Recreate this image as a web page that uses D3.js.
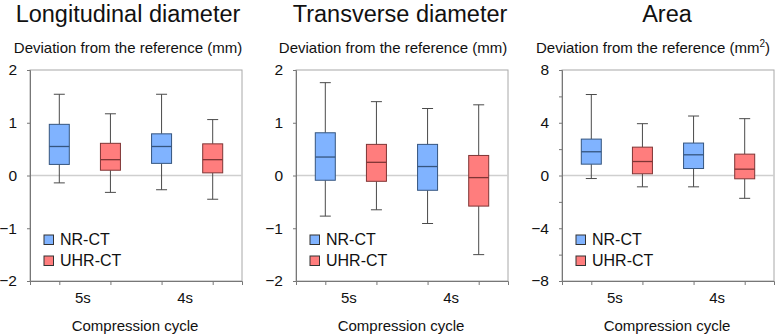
<!DOCTYPE html>
<html><head><meta charset="utf-8">
<script src="https://cdn.jsdelivr.net/npm/d3@7"></script>
<style>
html,body{margin:0;padding:0;background:#fff;}
text{font-family:"Liberation Sans",Arial,Helvetica,sans-serif;fill:#111;}
</style></head>
<body><svg id="c" width="776" height="335"></svg>
<script>
// ---- data ----
const cycles = ["5s", "4s"];
const series = ["NR-CT", "UHR-CT"];
const panelTitles = ["Longitudinal diameter", "Transverse diameter", "Area"];
// each entry: [whiskerLow, q1, median, q3, whiskerHigh] for NR 5s, UHR 5s, NR 4s, UHR 4s
const longitudinal = [
  [-0.14, 0.21, 0.55, 0.97, 1.54],
  [-0.32, 0.10, 0.30, 0.61, 1.17],
  [-0.27, 0.23, 0.55, 0.79, 1.54],
  [-0.45, 0.05, 0.30, 0.60, 1.06]
];
const transverse = [
  [-0.77, -0.09, 0.35, 0.81, 1.76],
  [-0.65, -0.11, 0.25, 0.59, 1.40],
  [-0.91, -0.28, 0.17, 0.59, 1.27],
  [-1.50, -0.58, -0.04, 0.38, 1.34]
];
const area = [
  [-0.23, 0.86, 1.80, 2.76, 6.14],
  [-0.86, 0.13, 1.06, 2.15, 3.93],
  [-0.86, 0.53, 1.57, 2.46, 4.51],
  [-1.73, -0.25, 0.48, 1.62, 4.31]
];
const yDomains = [[-2, 2], [-2, 2], [-8, 8]];
const yTicks = [[-2, -1, 0, 1, 2], [-2, -1, 0, 1, 2], [-8, -6, -4, -2, 0, 2, 4, 6, 8]];
const yLabelTicks = [[-2, -1, 0, 1, 2], [-2, -1, 0, 1, 2], [-8, -4, 0, 4, 8]];
const yUnits = ["mm", "mm", "mm2"];
const allData = [longitudinal, transverse, area];

// ---- layout ----
const panelLeft = [30, 296, 562];
const titleX = [98, 104, 105];
const ylabX = [98, 97, 91];
const plotW = 212, plotTop = 70, plotBottom = 281;
const fills = {"NR-CT": "#80b3ff", "UHR-CT": "#ff7d7d"};
const strokes = {"NR-CT": "#35557f", "UHR-CT": "#7f3535"};

const svg = d3.select("#c");
const groups = [];
cycles.forEach(c => series.forEach(s => groups.push({cycle: c, series: s})));
const keys = groups.map(g => g.cycle + "|" + g.series);

allData.forEach((data, pi) => {
  const g = svg.append("g").attr("transform", `translate(${panelLeft[pi]},0)`);
  const x = d3.scalePoint().domain(keys).range([0, plotW]).padding(0.573);
  const y = d3.scaleLinear().domain(yDomains[pi]).range([plotBottom, plotTop]);

  // title
  g.append("text").attr("x", titleX[pi]).attr("y", 22).attr("text-anchor", "middle")
    .style("font-size", "23.5px").text(panelTitles[pi]);
  // y label
  const yl = g.append("text").attr("x", ylabX[pi]).attr("y", 53).attr("text-anchor", "middle")
    .style("font-size", "15px");
  if (yUnits[pi] === "mm2") {
    yl.append("tspan").text("Deviation from the reference (mm");
    yl.append("tspan").attr("dy", -6).style("font-size", "10px").text("2");
    yl.append("tspan").attr("dy", 6).text(")");
  } else {
    yl.text("Deviation from the reference (mm)");
  }

  // frame
  g.append("rect").attr("x", 0).attr("y", plotTop).attr("width", plotW).attr("height", plotBottom - plotTop)
    .attr("fill", "none").attr("stroke", "#a8a8a8").attr("stroke-width", 1);
  // zero line
  g.append("line").attr("x1", 0).attr("x2", plotW).attr("y1", y(0)).attr("y2", y(0))
    .attr("stroke", "#cfcfcf").attr("stroke-width", 1.5);

  // y axis
  const fmt = d3.format("d");
  const yAxis = d3.axisLeft(y).tickValues(yTicks[pi]).tickSize(3).tickPadding(10)
    .tickFormat(d => yLabelTicks[pi].includes(d) ? fmt(d) : "");
  const ya = g.append("g").call(yAxis);
  ya.select(".domain").attr("stroke", "#777");
  ya.selectAll(".tick line").attr("stroke", "#777");
  ya.selectAll(".tick text").style("font-size", "15.5px").style("font-family", '"Liberation Sans",Arial,sans-serif').attr("fill", "#111");

  // x axis ticks at box centres
  const xAxis = d3.axisBottom(x).tickSize(4).tickFormat("");
  const xa = g.append("g").attr("transform", `translate(0,${plotBottom})`).call(xAxis);
  xa.select(".domain").attr("stroke", "#777");
  xa.selectAll(".tick line").attr("stroke", "#777");
  // cycle labels centred between the pairs
  cycles.forEach(c => {
    const cx = (x(c + "|" + series[0]) + x(c + "|" + series[1])) / 2;
    g.append("text").attr("x", cx - 2).attr("y", 303).attr("text-anchor", "middle")
      .style("font-size", "15px").text(c);
  });
  g.append("text").attr("x", plotW / 2 - 1).attr("y", 331).attr("text-anchor", "middle")
    .style("font-size", "15px").text("Compression cycle");

  // boxes
  const bw = 20, cw = 11;
  groups.forEach((gr, i) => {
    const d = data[i];
    const cx = x(keys[i]);
    const col = strokes[gr.series];
    g.append("line").attr("x1", cx).attr("x2", cx).attr("y1", y(d[0])).attr("y2", y(d[1])).attr("stroke", "#4a4a4a");
    g.append("line").attr("x1", cx).attr("x2", cx).attr("y1", y(d[3])).attr("y2", y(d[4])).attr("stroke", "#4a4a4a");
    g.append("line").attr("x1", cx - cw / 2).attr("x2", cx + cw / 2).attr("y1", y(d[0])).attr("y2", y(d[0])).attr("stroke", "#4a4a4a");
    g.append("line").attr("x1", cx - cw / 2).attr("x2", cx + cw / 2).attr("y1", y(d[4])).attr("y2", y(d[4])).attr("stroke", "#4a4a4a");
    g.append("rect").attr("x", cx - bw / 2).attr("y", y(d[3])).attr("width", bw).attr("height", y(d[1]) - y(d[3]))
      .attr("fill", fills[gr.series]).attr("stroke", col).attr("stroke-width", 1);
    g.append("line").attr("x1", cx - bw / 2).attr("x2", cx + bw / 2).attr("y1", y(d[2])).attr("y2", y(d[2]))
      .attr("stroke", col).attr("stroke-width", 1.3);
  });

  // legend
  series.forEach((s, i) => {
    const ly = 235 + i * 21;
    g.append("rect").attr("x", 14).attr("y", ly).attr("width", 9.5).attr("height", 9.5)
      .attr("fill", fills[s]).attr("stroke", "#333").attr("stroke-width", 1);
    g.append("text").attr("x", 30).attr("y", ly + 10).style("font-size", "16px").text(s);
  });
});
</script></body></html>
